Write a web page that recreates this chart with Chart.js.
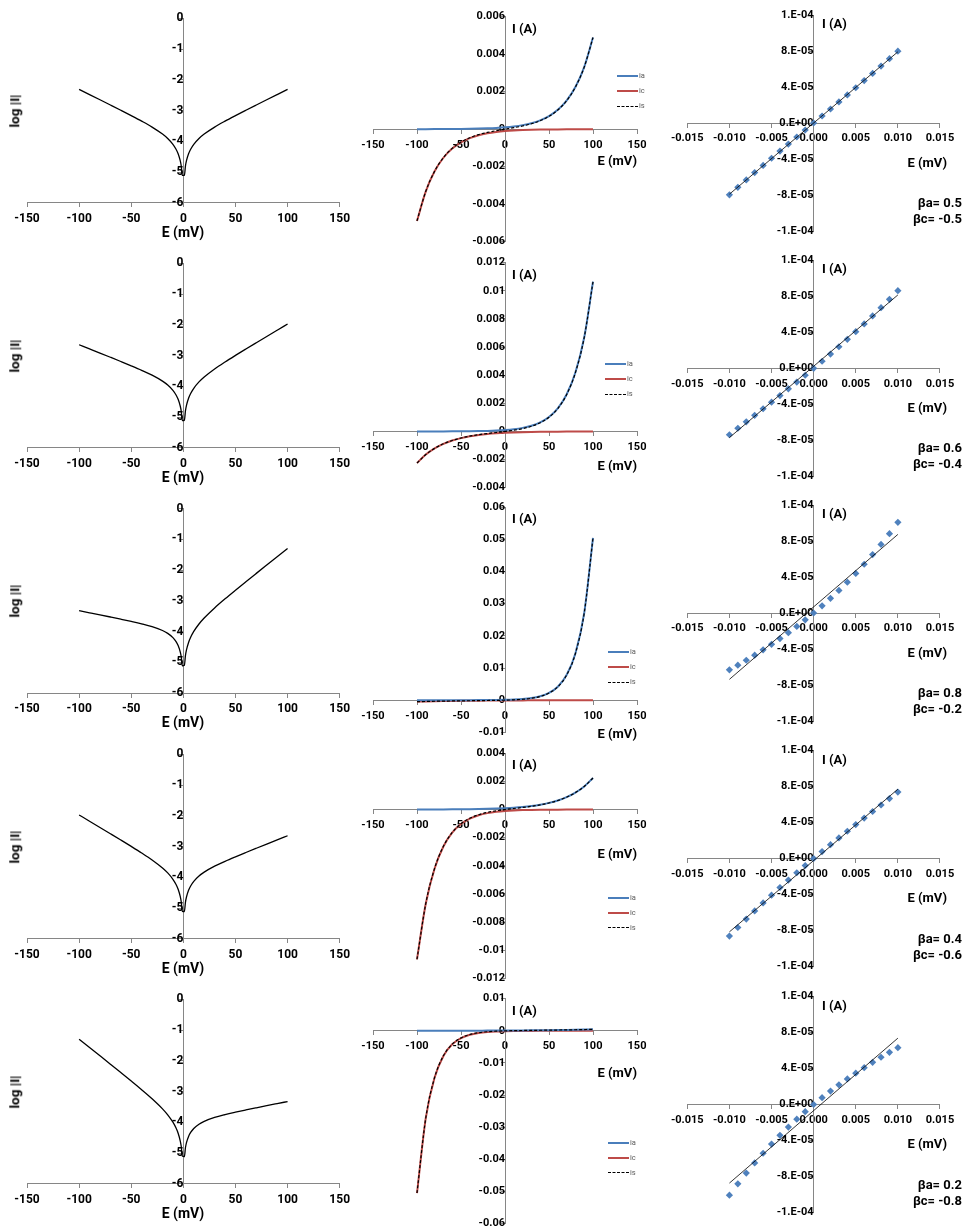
<!DOCTYPE html>
<html>
<head>
<meta charset="utf-8">
<script src="https://cdn.jsdelivr.net/npm/chart.js@4.4.1/dist/chart.umd.min.js"></script>
<style>
  body { margin: 0; background: #fff; width: 963px; height: 1229px; position: relative; overflow: hidden; }
  canvas { position: absolute; }
  .t { position: absolute; font-family: Roboto, "Open Sans", sans-serif; font-weight: 700; color: #000; white-space: nowrap; line-height: 1; }
  .lg { position: absolute; font-family: Roboto, sans-serif; font-size: 7.5px; color: #595959; line-height: 1; }
  .sw { position: absolute; height: 0; }
</style>
</head>
<body>
<script>
// ---- data ----
const E_LOG = [-100,-90,-80,-70,-60,-50,-40,-30,-20,-15,-10,-7,-5,-3,-2,-1,1,2,3,5,7,10,15,20,30,40,50,60,70,80,90,100];
const logR1 = [-2.3108,-2.4799,-2.6493,-2.8193,-2.9904,-3.1643,-3.3440,-3.5374,-3.7650,-3.9086,-4.0981,-4.2586,-4.4073,-4.6309,-4.8075,-5.1089,-5.1089,-4.8075,-4.6309,-4.4073,-4.2586,-4.0981,-3.9086,-3.7650,-3.5374,-3.3440,-3.1643,-2.9904,-2.8193,-2.6493,-2.4799,-2.3108];
const logR2 = [-2.6486,-2.7840,-2.9196,-3.0558,-3.1932,-3.3332,-3.4792,-3.6388,-3.8326,-3.9592,-4.1319,-4.2822,-4.4242,-4.6411,-4.8143,-5.1123,-5.1055,-4.8008,-4.6208,-4.3904,-4.2349,-4.0644,-3.8579,-3.6975,-3.4361,-3.2089,-2.9953,-2.7877,-2.5828,-2.3790,-2.1758,-1.9729];
const logR3 = [-3.3244,-3.3922,-3.4602,-3.5288,-3.5986,-3.6711,-3.7495,-3.8415,-3.9678,-4.0606,-4.1995,-4.3295,-4.4580,-4.6613,-4.8278,-5.1190,-5.0988,-4.7873,-4.6005,-4.3566,-4.1876,-3.9967,-3.7565,-3.5623,-3.2333,-2.9385,-2.6574,-2.3822,-2.1097,-1.8384,-1.5676,-1.2971];
const logR4 = [-1.9729,-2.1758,-2.3790,-2.5828,-2.7877,-2.9953,-3.2089,-3.4361,-3.6975,-3.8579,-4.0644,-4.2349,-4.3904,-4.6208,-4.8008,-5.1055,-5.1123,-4.8143,-4.6411,-4.4242,-4.2822,-4.1319,-3.9592,-3.8326,-3.6388,-3.4792,-3.3332,-3.1932,-3.0558,-2.9196,-2.7840,-2.6486];
const logR5 = [-1.2971,-1.5676,-1.8384,-2.1097,-2.3822,-2.6574,-2.9385,-3.2333,-3.5623,-3.7565,-3.9967,-4.1876,-4.3566,-4.6005,-4.7873,-5.0988,-5.1190,-4.8278,-4.6613,-4.4580,-4.3295,-4.1995,-4.0606,-3.9678,-3.8415,-3.7495,-3.6711,-3.5986,-3.5288,-3.4602,-3.3922,-3.3244];

const E_MID = [-100,-90,-80,-70,-60,-50,-40,-30,-20,-10,0,10,20,30,40,50,60,70,80,90,100];
const iaR1 = [2.0445e-6,3.0166e-6,4.4510e-6,6.5676e-6,9.6904e-6,1.4298e-5,2.1098e-5,3.1130e-5,4.5933e-5,6.7773e-5,1e-4,1.4755e-4,2.1771e-4,3.2124e-4,4.7399e-4,6.9938e-4,1.03195e-3,1.52264e-3,2.2467e-3,3.3150e-3,4.8913e-3];
const icR1 = [-4.8913e-3,-3.3150e-3,-2.2467e-3,-1.52264e-3,-1.03195e-3,-6.9938e-4,-4.7399e-4,-3.2124e-4,-2.1771e-4,-1.4755e-4,-1e-4,-6.7773e-5,-4.5933e-5,-3.1130e-5,-2.1098e-5,-1.4298e-5,-9.6904e-6,-6.5676e-6,-4.4510e-6,-3.0166e-6,-2.0445e-6];
const isR1 = [-4.8893e-3,-3.3120e-3,-2.2422e-3,-1.5161e-3,-1.0223e-3,-6.8508e-4,-4.5290e-4,-2.9011e-4,-1.7178e-4,-7.9777e-5,0,7.9777e-5,1.7178e-4,2.9011e-4,4.5290e-4,6.8508e-4,1.0223e-3,1.5161e-3,2.2422e-3,3.3120e-3,4.8893e-3];
const iaR2 = [9.3904e-7,1.4977e-6,2.3886e-6,3.8096e-6,6.0759e-6,9.6904e-6,1.5455e-5,2.4649e-5,3.9313e-5,6.2700e-5,1e-4,1.5949e-4,2.5437e-4,4.0569e-4,6.4703e-4,1.03195e-3,1.64586e-3,2.62497e-3,4.1865e-3,6.6770e-3,1.06492e-2];
const icR2 = [-2.2467e-3,-1.64586e-3,-1.2057e-3,-8.8325e-4,-6.4703e-4,-4.7399e-4,-3.4723e-4,-2.5437e-4,-1.8634e-4,-1.3651e-4,-1e-4,-7.3257e-5,-5.3665e-5,-3.9313e-5,-2.8799e-5,-2.1098e-5,-1.5455e-5,-1.1322e-5,-8.2940e-6,-6.0759e-6,-4.4510e-6];
const isR2 = [-2.2458e-3,-1.6444e-3,-1.2033e-3,-8.7944e-4,-6.4096e-4,-4.6430e-4,-3.3178e-4,-2.2972e-4,-1.4703e-4,-7.3807e-5,0,8.6232e-5,2.0070e-4,3.6638e-4,6.1823e-4,1.01085e-3,1.63040e-3,2.61365e-3,4.17821e-3,6.67092e-3,1.064475e-2];
const iaR3 = [1.9811e-7,3.6916e-7,6.8790e-7,1.2819e-6,2.3886e-6,4.4510e-6,8.2940e-6,1.5455e-5,2.8799e-5,5.3665e-5,1e-4,1.8634e-4,3.4723e-4,6.4703e-4,1.2057e-3,2.2467e-3,4.1865e-3,7.8012e-3,1.45371e-2,2.70888e-2,5.04766e-2];
const icR3 = [-4.7399e-4,-4.0569e-4,-3.4723e-4,-2.9719e-4,-2.5437e-4,-2.1771e-4,-1.8634e-4,-1.5949e-4,-1.3651e-4,-1.1684e-4,-1e-4,-8.5590e-5,-7.3257e-5,-6.2700e-5,-5.3665e-5,-4.5933e-5,-3.9313e-5,-3.3648e-5,-2.8799e-5,-2.4649e-5,-2.1098e-5];
const isR3 = [-4.7380e-4,-4.0533e-4,-3.4655e-4,-2.9591e-4,-2.5198e-4,-2.1326e-4,-1.7805e-4,-1.4403e-4,-1.0771e-4,-6.3171e-5,0,1.00752e-4,2.73976e-4,5.84332e-4,1.152035e-3,2.200767e-3,4.147187e-3,7.76755e-3,1.45083e-2,2.70642e-2,5.04555e-2];
const iaR4 = [4.4510e-6,6.0759e-6,8.2940e-6,1.1322e-5,1.5455e-5,2.1098e-5,2.8799e-5,3.9313e-5,5.3665e-5,7.3257e-5,1e-4,1.3651e-4,1.8634e-4,2.5437e-4,3.4723e-4,4.7399e-4,6.4703e-4,8.8325e-4,1.2057e-3,1.64586e-3,2.2467e-3];
const icR4 = [-1.06492e-2,-6.6770e-3,-4.1865e-3,-2.62497e-3,-1.64586e-3,-1.03195e-3,-6.4703e-4,-4.0569e-4,-2.5437e-4,-1.5949e-4,-1e-4,-6.2700e-5,-3.9313e-5,-2.4649e-5,-1.5455e-5,-9.6904e-6,-6.0759e-6,-3.8096e-6,-2.3886e-6,-1.4977e-6,-9.3904e-7];
const isR4 = [-1.064475e-2,-6.67092e-3,-4.17821e-3,-2.61365e-3,-1.63040e-3,-1.01085e-3,-6.1823e-4,-3.6638e-4,-2.0070e-4,-8.6232e-5,0,7.3807e-5,1.4703e-4,2.2972e-4,3.3178e-4,4.6430e-4,6.4096e-4,8.7944e-4,1.2033e-3,1.6444e-3,2.2458e-3];
const iaR5 = [2.1098e-5,2.4649e-5,2.8799e-5,3.3648e-5,3.9313e-5,4.5933e-5,5.3665e-5,6.2700e-5,7.3257e-5,8.5590e-5,1e-4,1.1684e-4,1.3651e-4,1.5949e-4,1.8634e-4,2.1771e-4,2.5437e-4,2.9719e-4,3.4723e-4,4.0569e-4,4.7399e-4];
const icR5 = [-5.04766e-2,-2.70888e-2,-1.45371e-2,-7.8012e-3,-4.1865e-3,-2.2467e-3,-1.2057e-3,-6.4703e-4,-3.4723e-4,-1.8634e-4,-1e-4,-5.3665e-5,-2.8799e-5,-1.5455e-5,-8.2940e-6,-4.4510e-6,-2.3886e-6,-1.2819e-6,-6.8790e-7,-3.6916e-7,-1.9811e-7];
const isR5 = [-5.04555e-2,-2.70642e-2,-1.45083e-2,-7.76755e-3,-4.147187e-3,-2.200767e-3,-1.152035e-3,-5.84332e-4,-2.73976e-4,-1.00752e-4,0,6.3171e-5,1.0771e-4,1.4403e-4,1.7805e-4,2.1326e-4,2.5198e-4,2.9591e-4,3.4655e-4,4.0533e-4,4.7380e-4];

const E_LP = [-0.010,-0.009,-0.008,-0.007,-0.006,-0.005,-0.004,-0.003,-0.002,-0.001,0,0.001,0.002,0.003,0.004,0.005,0.006,0.007,0.008,0.009,0.010];
const lpR1 = [-7.9777e-5,-7.1459e-5,-6.3249e-5,-5.5135e-5,-4.7105e-5,-3.9146e-5,-3.1246e-5,-2.3393e-5,-1.5576e-5,-7.782e-6,0,7.782e-6,1.5576e-5,2.3393e-5,3.1246e-5,3.9146e-5,4.7105e-5,5.5135e-5,6.3249e-5,7.1459e-5,7.9777e-5];
const lpR2 = [-7.3807e-5,-6.6627e-5,-5.9433e-5,-5.2214e-5,-4.4957e-5,-3.7653e-5,-3.0288e-5,-2.2853e-5,-1.5335e-5,-7.722e-6,0,7.843e-6,1.5820e-5,2.3945e-5,3.2234e-5,4.0699e-5,4.9356e-5,5.8221e-5,6.7312e-5,7.6642e-5,8.6232e-5];
const lpR3 = [-6.3171e-5,-5.7921e-5,-5.2477e-5,-4.6825e-5,-4.0950e-5,-3.4834e-5,-2.8461e-5,-2.1811e-5,-1.4865e-5,-7.603e-6,0,7.966e-6,1.6320e-5,2.5090e-5,3.4303e-5,4.3992e-5,5.4186e-5,6.4921e-5,7.6234e-5,8.8164e-5,1.00752e-4];
const lpR4 = [-8.6232e-5,-7.6642e-5,-6.7312e-5,-5.8221e-5,-4.9356e-5,-4.0699e-5,-3.2234e-5,-2.3945e-5,-1.5820e-5,-7.843e-6,0,7.722e-6,1.5335e-5,2.2853e-5,3.0288e-5,3.7653e-5,4.4957e-5,5.2214e-5,5.9433e-5,6.6627e-5,7.3807e-5];
const lpR5 = [-1.00752e-4,-8.8164e-5,-7.6234e-5,-6.4921e-5,-5.4186e-5,-4.3992e-5,-3.4303e-5,-2.5090e-5,-1.6320e-5,-7.966e-6,0,7.603e-6,1.4865e-5,2.1811e-5,2.8461e-5,3.4834e-5,4.0950e-5,4.6825e-5,5.2477e-5,5.7921e-5,6.3171e-5];
// linear trendline end points
const FIT_E = [-0.010, 0.010];
const fitR1 = [-7.910e-5, 7.910e-5];
const fitR2 = [-7.700e-5, 8.152e-5];
const fitR3 = [-7.372e-5, 8.734e-5];
const fitR4 = [-8.152e-5, 7.700e-5];
const fitR5 = [-8.734e-5, 7.372e-5];

const BETA_A = ['0.5', '0.6', '0.8', '0.4', '0.2'];
const BETA_C = ['-0.5', '-0.4', '-0.2', '-0.6', '-0.8'];

// tick labels
const E_TICKS = ['-150', '-100', '-50', '0', '50', '100', '150'];
const LOG_TICKS = ['-6', '-5', '-4', '-3', '-2', '-1', '0'];
const I_TICKS = [
  ['-0.006', '-0.004', '-0.002', '0', '0.002', '0.004', '0.006'],
  ['-0.004', '-0.002', '0', '0.002', '0.004', '0.006', '0.008', '0.01', '0.012'],
  ['-0.01', '0', '0.01', '0.02', '0.03', '0.04', '0.05', '0.06'],
  ['-0.012', '-0.01', '-0.008', '-0.006', '-0.004', '-0.002', '0', '0.002', '0.004'],
  ['-0.06', '-0.05', '-0.04', '-0.03', '-0.02', '-0.01', '0', '0.01']
];
const LP_E_TICKS = ['-0.015', '-0.010', '-0.005', '0.000', '0.005', '0.010', '0.015'];
const LP_I_VALUES = [-1.2e-4, -8e-5, -4e-5, 0, 4e-5, 8e-5, 1.2e-4];
const LP_I_TICKS = ['-1.E-04', '-8.E-05', '-4.E-05', '0.E+00', '4.E-05', '8.E-05', '1.E-04'];

const LOGS = [logR1, logR2, logR3, logR4, logR5];
const IA = [iaR1, iaR2, iaR3, iaR4, iaR5];
const IC = [icR1, icR2, icR3, icR4, icR5];
const IS = [isR1, isR2, isR3, isR4, isR5];
const LP = [lpR1, lpR2, lpR3, lpR4, lpR5];
const FIT = [fitR1, fitR2, fitR3, fitR4, fitR5];

// ---- layout (plot areas in page px) ----
const FONT = 'Roboto, "Open Sans", sans-serif';
const AX = '#868686';
const leftTop = [18.3, 263.3, 508.5, 754.3, 999.3];
const midTop = [16.7, 262.7, 507.3, 753.3, 998.7];
const rightTop = [15, 260.3, 505, 750.5, 996.5];
const legendX = [617, 605, 608, 608, 608];
const legendY = [76, 364.3, 652.3, 897.7, 1142.7];
const midETitleY = [160, 465, 733, 853, 1072];

function place(area, pad) {
  const c = document.createElement('canvas');
  const L = Math.floor(area.x) - pad, T = Math.floor(area.y) - pad;
  const R = Math.ceil(area.x + area.w) + pad, B = Math.ceil(area.y + area.h) + pad;
  c.width = R - L; c.height = B - T;
  c.style.left = L + 'px'; c.style.top = T + 'px';
  c.style.width = c.width + 'px'; c.style.height = c.height + 'px';
  document.body.appendChild(c);
  return { canvas: c, padding: { left: area.x - L, top: area.y - T, right: R - area.x - area.w, bottom: B - area.y - area.h } };
}

function axis(labels, values, pos, pad, size) {
  const vals = values || labels.map(Number);
  return {
    type: 'linear', min: vals[0], max: vals[vals.length - 1], position: pos,
    afterBuildTicks: s => { s.ticks = vals.map(v => ({ value: v })); },
    ticks: { callback: (v, i) => labels[i], autoSkip: false, maxRotation: 0, padding: pad, color: '#000',
             font: { family: FONT, weight: 'bold', size: size } },
    grid: { drawOnChartArea: false, drawTicks: true, tickLength: 4, color: AX },
    border: { display: true, color: AX, width: 1 }
  };
}

function makeChart(area, datasets, scales) {
  const p = place(area, 40);
  return new Chart(p.canvas, {
    type: 'scatter',
    data: { datasets: datasets },
    options: {
      responsive: false, animation: false, events: [],
      layout: { padding: p.padding },
      plugins: { legend: { display: false }, tooltip: { enabled: false } },
      scales: scales
    }
  });
}

function txt(s, x, y, size, align, rot) {
  const d = document.createElement('div');
  d.className = 't';
  d.textContent = s;
  d.style.fontSize = size + 'px';
  d.style.left = x + 'px';
  d.style.top = y + 'px';
  const tx = align === 'r' ? '-100%' : align === 'c' ? '-50%' : '0';
  d.style.transform = 'translate(' + tx + ',-50%)' + (rot ? ' rotate(-90deg)' : '');
  document.body.appendChild(d);
}

function legend(x, y) {
  const items = [['ia', '#4A7EBB', 'solid', 2], ['ic', '#BE4B48', 'solid', 2], ['is', '#000', 'dashed', 1]];
  items.forEach((it, k) => {
    const yy = y + k * 15;
    const sw = document.createElement('div');
    sw.className = 'sw';
    sw.style.left = x + 'px'; sw.style.top = (yy - it[3] / 2) + 'px'; sw.style.width = '21px';
    sw.style.borderTop = it[3] + 'px ' + it[2] + ' ' + it[1];
    document.body.appendChild(sw);
    const t = document.createElement('div');
    t.className = 'lg';
    t.textContent = it[0];
    t.style.left = (x + 22) + 'px'; t.style.top = (yy - 4) + 'px';
    document.body.appendChild(t);
  });
}

function pts(xs, ys) { return xs.map((x, i) => ({ x: x, y: ys[i] })); }

for (let r = 0; r < 5; r++) {
  // log|I| vs E
  const la = { x: 27, y: leftTop[r], w: 312.7, h: 184.5 };
  makeChart(la, [
    { data: pts(E_LOG, LOGS[r]), showLine: true, borderColor: '#000', borderWidth: 1.3, pointRadius: 0, cubicInterpolationMode: 'monotone' }
  ], {
    x: axis(E_TICKS, null, { y: -6 }, 5, 12),
    y: axis(LOG_TICKS, null, { x: 0 }, 3, 12)
  });
  txt('log |I|', 15, la.y + la.h / 2, 13.5, 'c', true);
  txt('E (mV)', 183, la.y + la.h + 29, 14, 'c');

  // I vs E
  const ma = { x: 373, y: midTop[r], w: 264, h: 225 };
  makeChart(ma, [
    { data: pts(E_MID, IS[r]), showLine: true, borderColor: '#000', borderWidth: 1.2, borderDash: [3, 2], pointRadius: 0, cubicInterpolationMode: 'monotone' },
    { data: pts(E_MID, IA[r]), showLine: true, borderColor: '#4A7EBB', borderWidth: 2, pointRadius: 0, cubicInterpolationMode: 'monotone' },
    { data: pts(E_MID, IC[r]), showLine: true, borderColor: '#BE4B48', borderWidth: 2, pointRadius: 0, cubicInterpolationMode: 'monotone' }
  ], {
    x: axis(E_TICKS, null, { y: 0 }, 5, 11),
    y: axis(I_TICKS[r], null, { x: 0 }, 6, 11)
  });
  txt('I (A)', 512, ma.y + 11, 13, 'l');
  txt('E (mV)', 637, midETitleY[r], 13, 'r');
  legend(legendX[r], legendY[r]);

  // linear polarization
  const ra = { x: 687.3, y: rightTop[r], w: 252.7, h: 216 };
  makeChart(ra, [
    { data: pts(FIT_E, FIT[r]), showLine: true, borderColor: '#000', borderWidth: 0.8, pointRadius: 0 },
    { data: pts(E_LP, LP[r]), pointStyle: 'rectRot', pointRadius: 3.6, backgroundColor: '#4F81BD', borderColor: '#4F81BD', borderWidth: 0 }
  ], {
    x: axis(LP_E_TICKS, null, { y: 0 }, 5, 11),
    y: axis(LP_I_TICKS, LP_I_VALUES, { x: 0 }, 8, 11)
  });
  const ay = ra.y + ra.h / 2;
  txt('I (A)', 822, ra.y + 8, 13, 'l');
  txt('E (mV)', 947, ay + 38.5, 13, 'r');
  txt('βa= ' + BETA_A[r], 962, ay + 79, 13, 'r');
  txt('βc= ' + BETA_C[r], 962, ay + 95, 13, 'r');
}
</script>
</body>
</html>
